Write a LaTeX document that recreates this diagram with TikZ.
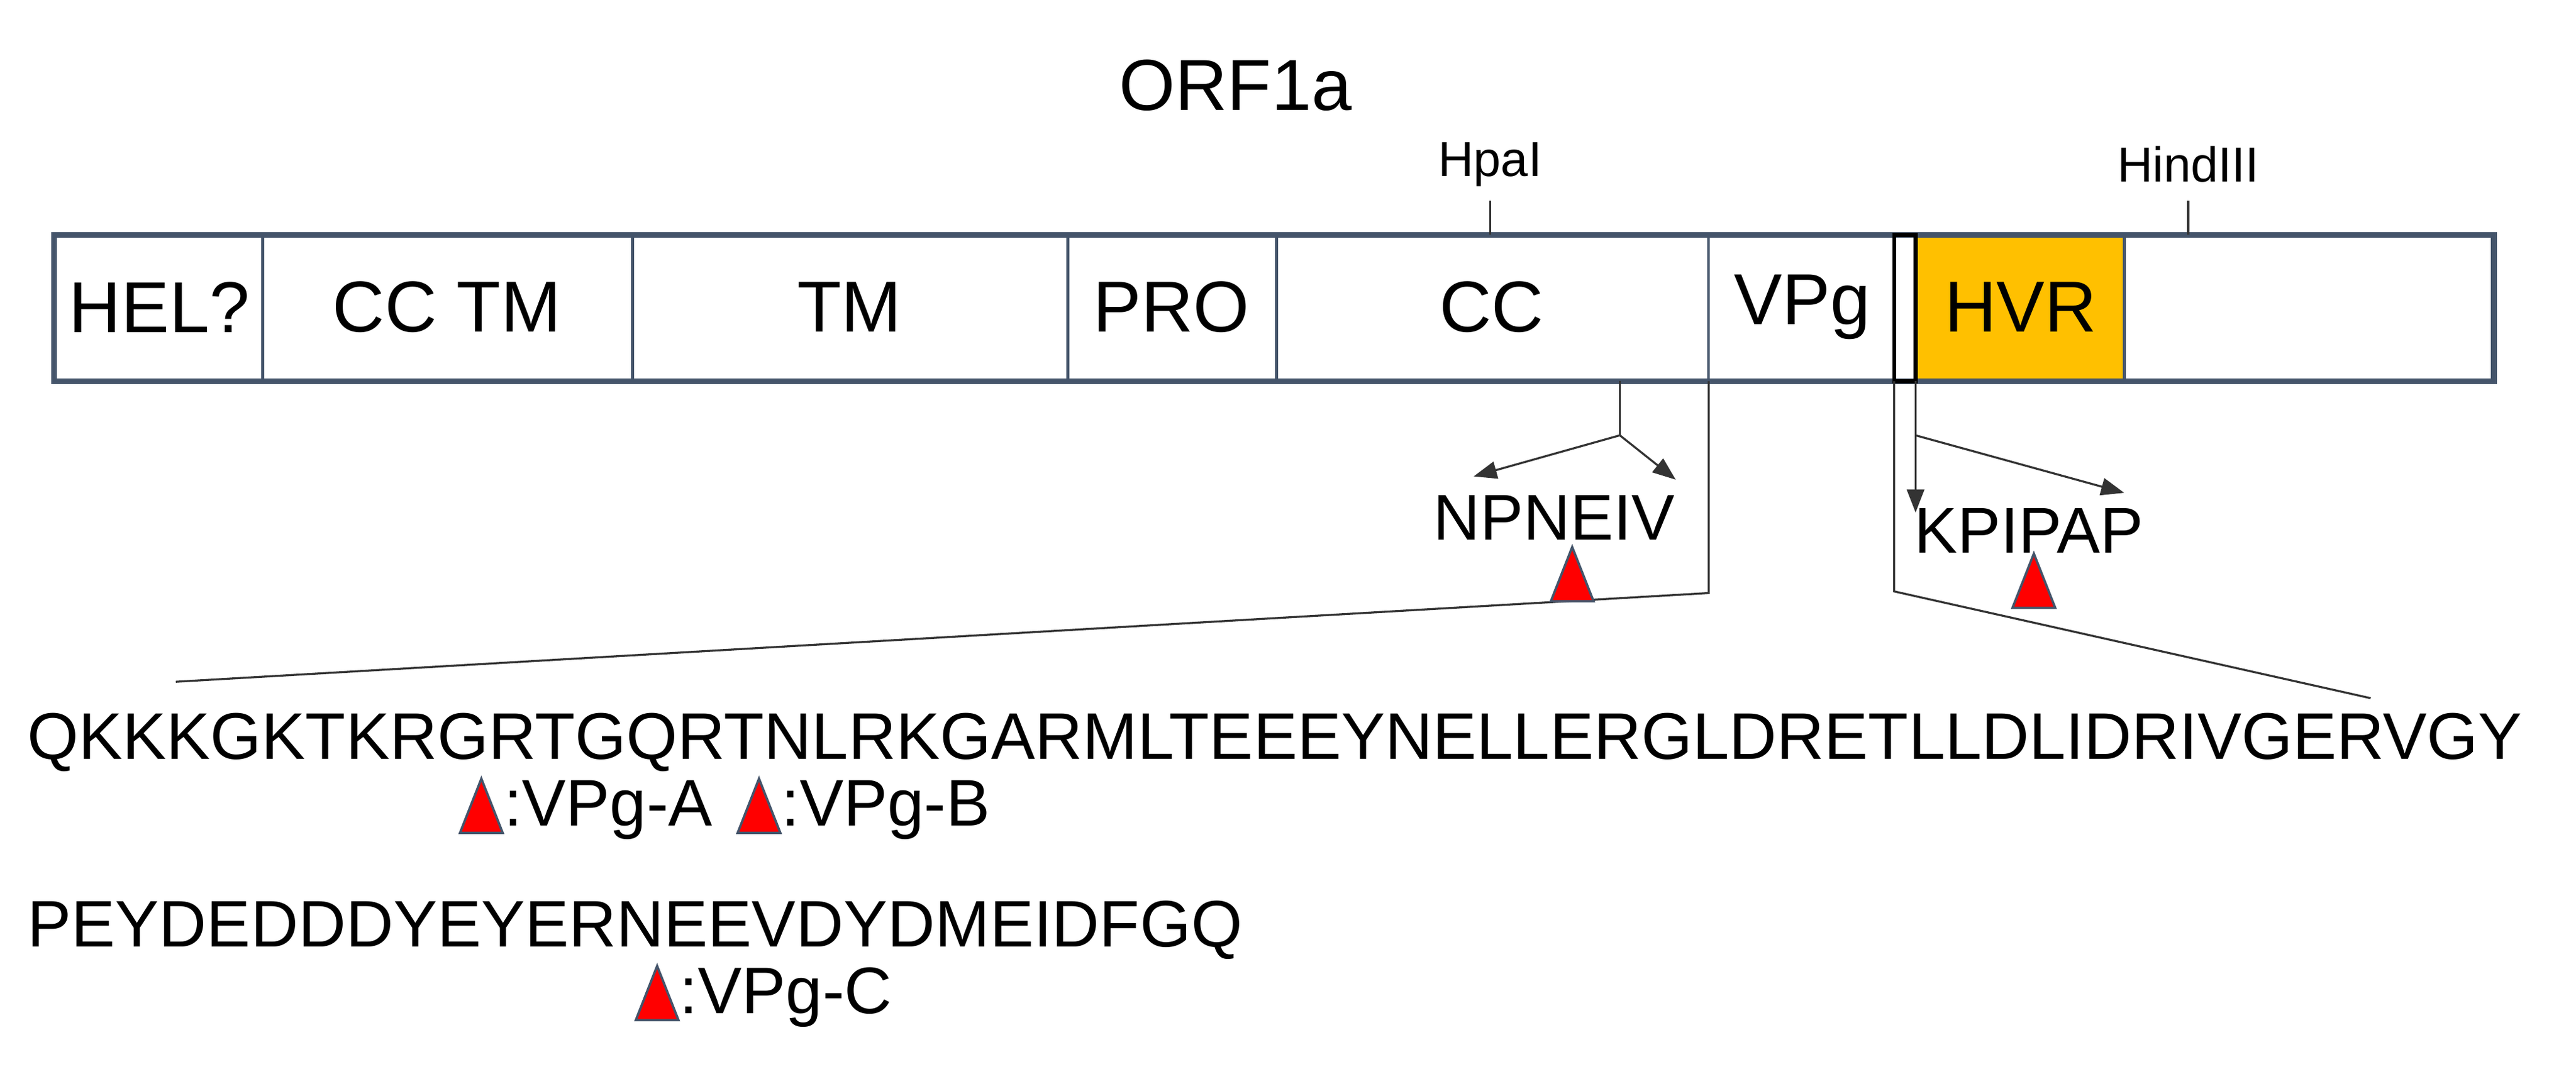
\documentclass[tikz,border=0pt]{standalone}
\usepackage{fontspec}
\setmainfont{Liberation Sans}
\usetikzlibrary{arrows.meta}
\definecolor{hvr}{HTML}{FFC000}
\definecolor{slate}{HTML}{44546A}
\begin{document}
\begin{tikzpicture}[x=0.01cm,y=-0.01cm,
 seg/.style={draw=slate,line width=0.5pt},
 lbl/.style={font=\fontsize{12.5}{14}\selectfont,inner sep=0},
 seq/.style={font=\fontsize{11.4}{13}\selectfont,inner sep=0,anchor=west},
 thin/.style={draw=black!80,line width=0.35pt},
 arr/.style={thin,-{Triangle[length=4pt,width=3pt]}},
 tri/.style={fill=red,draw=slate,line width=0.4pt}]
\useasboundingbox (0,0) rectangle (1568,664);
\newcommand{\redtri}[2]{\draw[tri] (#1-13,#2+33) -- (#1,#2) -- (#1+13,#2+33) -- cycle;}
% main bar
\fill[hvr] (1166,143) rectangle (1293,232);
\draw[seg,line width=1pt] (33,143) rectangle (1518,232);
\foreach \x in {160,385,650,777,1040,1293}{\draw[seg] (\x,143) -- (\x,232);}
\draw[black,line width=0.7pt] (1153,143) rectangle (1166,232);
\node[lbl] (hel) at (97,187) {HEL?};
\node[lbl] (cctm) at (272,187) {CC TM};
\node[lbl] (tm) at (517,187) {TM};
\node[lbl] (pro) at (713,187) {PRO};
\node[lbl] (cc) at (908,187) {CC};
\node[lbl] (vpg) at (1097,187) {VPg};
\node[lbl] (hvrl) at (1230,187) {HVR};
\node[lbl] (orf) at (752,52) {ORF1a};
\node[inner sep=0,font=\fontsize{8.5}{10}\selectfont] (hpa) at (907,100) {HpaI};
\node[inner sep=0,font=\fontsize{8.5}{10}\selectfont] (hind) at (1332,100) {HindIII};
\draw[thin] (907,122) -- (907,143);
\draw[thin] (1332,122) -- (1332,143);
% CC branch
\coordinate (br) at (986,265);
\draw[thin] (986,232) -- (br);
\draw[arr] (br) -- (897,290);
\draw[arr] (br) -- (1020,292);
\node[inner sep=0,font=\fontsize{11.2}{13}\selectfont] (np) at (946,315) {NPNEIV};
% KPIPAP
\draw[arr] (1166,232) -- (1166,312);
\draw[arr] (1166,265) -- (1293,300);
\node[inner sep=0,font=\fontsize{11.2}{13}\selectfont] (kp) at (1235,323) {KPIPAP};
% zoom lines
\draw[thin] (1040,232) -- (1040,361) -- (107,415);
\draw[thin] (1153,232) -- (1153,360) -- (1443,425);
\redtri{957}{333}
\redtri{1238}{337}
% sequences
\node[seq] (s1) at (16,452) {QKKKGKTKRGRTGQRTNLRKGARMLTEEEYNELLERGLDRETLLDLIDRIVGERVGY};
\node[seq] (s2) at (16,566) {PEYDEDDDYEYERNEEVDYDMEIDFGQ};
\redtri{293}{474}
\node[seq] (a) at (306,493) {:VPg-A};
\redtri{462}{474}
\node[seq] (b) at (475,493) {:VPg-B};
\redtri{400}{588}
\node[seq] (c) at (413,607) {:VPg-C};
\end{tikzpicture}
\end{document}
